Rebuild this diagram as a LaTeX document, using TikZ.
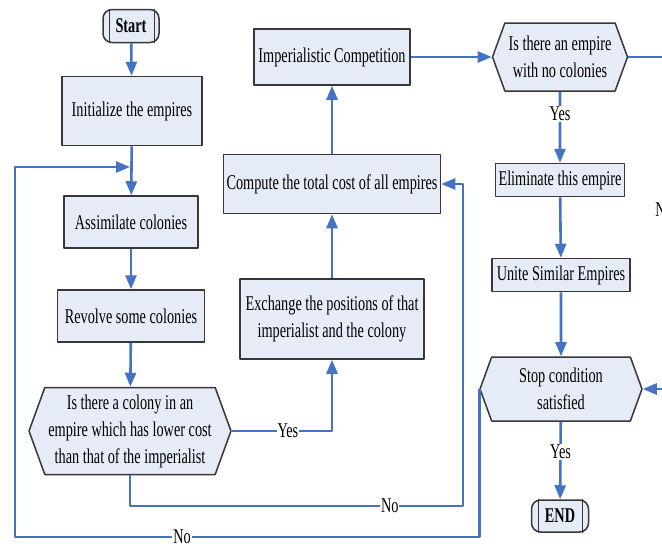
\documentclass[tikz,border=0pt]{standalone}
\usepackage{fontspec}
\setmainfont{Liberation Serif}[FakeStretch=0.68]
\usetikzlibrary{arrows.meta,shapes.symbols}
\definecolor{flowblue}{RGB}{68,114,196}
\definecolor{boxfill}{RGB}{230,236,247}
\definecolor{boxline}{RGB}{55,55,55}
\newcommand{\flowfont}{\fontsize{21}{27}\selectfont}
\tikzset{
  procbox/.style={draw=boxline, fill=boxfill, line width=1.5pt, align=center, inner sep=1pt},
  decbox/.style={signal, signal to=east and west, signal pointer angle=140, draw=boxline,
    fill=boxfill, line width=1.5pt, align=center, inner sep=0pt},
  termbox/.style={draw=boxline, fill=boxfill, line width=1.5pt, rounded corners=9pt,
    font=\flowfont\bfseries},
  flow/.style={draw=flowblue, line width=2.6pt, -{Triangle[length=14pt,width=11pt]}},
  lbl/.style={fill=white, inner sep=1pt}
}
\begin{document}
\begin{tikzpicture}[x=1pt, y=-1pt, font=\flowfont, line join=round]
  \useasboundingbox (0,0) rectangle (662,547);
  \clip (0,0) rectangle (662,547);
  % left column
  \node[termbox, minimum width=56pt, minimum height=33pt] (start) at (131,26) {Start};
  \draw[boxline, line width=1.2pt] ([xshift=7pt]start.north west) -- ([xshift=7pt]start.south west);
  \draw[boxline, line width=1.2pt] ([xshift=-5pt]start.north east) -- ([xshift=-5pt]start.south east);
  \node[procbox, minimum width=140pt, minimum height=69pt] (init) at (132,111) {Initialize the empires};
  \node[procbox, minimum width=134pt, minimum height=52pt] (assim) at (131,222) {Assimilate colonies};
  \node[procbox, minimum width=147pt, minimum height=52pt] (revolve) at (131,316) {Revolve some colonies};
  \node[decbox, minimum width=202pt, minimum height=87pt] (colq) at (130,431)
    {Is there a colony in an\\empire which has lower cost\\than that of the imperialist};
  % middle column
  \node[procbox, minimum width=184pt, minimum height=80pt] (exch) at (332,319)
    {Exchange the positions of that\\imperialist and the colony};
  \node[procbox, minimum width=217pt, minimum height=59pt] (comp) at (332,184) {Compute the total cost of all empires};
  \node[procbox, minimum width=156pt, minimum height=56pt] (imp) at (332,57) {Imperialistic Competition};
  % right column
  \node[decbox, minimum width=135pt, minimum height=68pt] (empq) at (560,57)
    {Is there an empire\\with no colonies};
  \node[procbox, minimum width=129pt, minimum height=33pt] (elim) at (560,180) {Eliminate this empire};
  \node[procbox, minimum width=138pt, minimum height=33pt] (unite) at (561,275) {Unite Similar Empires};
  \node[decbox, minimum width=162pt, minimum height=64pt] (stopq) at (561,389)
    {Stop condition\\satisfied};
  \node[termbox, minimum width=57pt, minimum height=32pt] (end) at (560,516) {END};
  \draw[boxline, line width=1.2pt] ([xshift=8pt]end.north west) -- ([xshift=8pt]end.south west);
  \draw[boxline, line width=1.2pt] ([xshift=-7pt]end.north east) -- ([xshift=-7pt]end.south east);
  \coordinate (nocorner) at (463,506);
  \coordinate (loopbl) at (15,537);
  \coordinate (loopin) at (130,167);
  \coordinate (rtop) at (664,57);
  % connectors
  \draw[flow] (start) -- (init);
  \draw[flow] (init) -- (assim);
  \draw[flow] (assim) -- (revolve);
  \draw[flow] (revolve) -- (colq);
  \draw[flow] (colq.east) -| (exch.south) node[lbl, pos=0.28] {Yes};
  \draw[flow] (colq.south) |- (nocorner) node[lbl, pos=0.89] {No} |- (comp.east);
  \draw[flow] (exch) -- (comp);
  \draw[flow] (comp) -- (imp);
  \draw[flow] (imp.east) -- (empq.west);
  \draw[flow] (empq) -- (elim) node[lbl, pos=0.31] {Yes};
  \draw[flow] (elim) -- (unite);
  \draw[flow] (unite) -- (stopq);
  \draw[flow] (stopq) -- (end) node[lbl, pos=0.39] {Yes};
  \draw[flow] (empq.east) -- (rtop) |- (stopq.east) node[lbl, pos=0.23] {No};
  \draw[flow] (stopq.west) |- (loopbl) node[lbl, pos=0.82] {No} |- (loopin);
\end{tikzpicture}
\end{document}
